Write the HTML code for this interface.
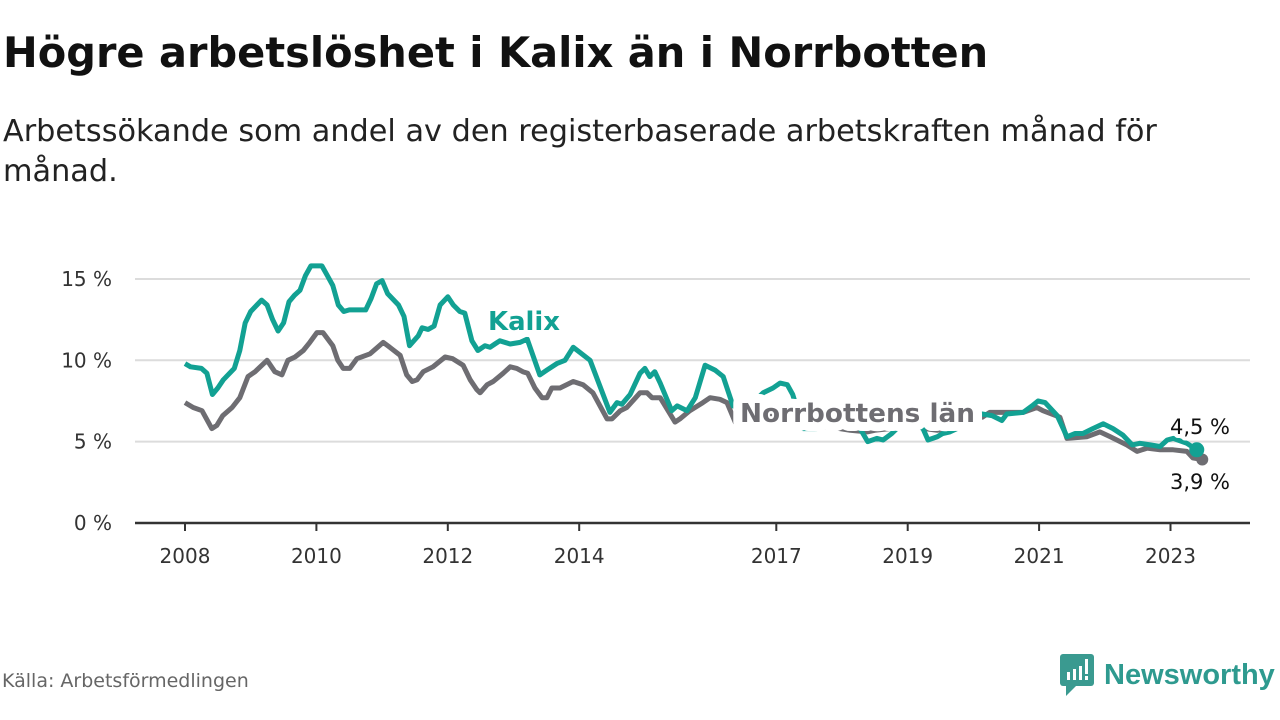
<!DOCTYPE html>
<html><head><meta charset="utf-8"><style>
body{margin:0;width:1280px;height:720px;background:#fff;font-family:"DejaVu Sans","Liberation Sans",sans-serif;overflow:hidden;position:relative}
h1{position:absolute;left:3px;top:28px;margin:0;font-size:41.5px;line-height:50px;font-weight:bold;color:#111;white-space:nowrap}
.sub{position:absolute;left:3px;top:112px;margin:0;font-size:30.3px;line-height:40px;color:#222;width:1230px}
.src{position:absolute;left:2px;top:670px;font-size:19px;color:#666}
.logo{position:absolute;left:1060px;top:654px;display:flex;align-items:center}
.logo span{font-size:29px;color:#2e9a8f;font-weight:bold;margin-left:10px;font-family:"Liberation Sans",sans-serif}
</style></head><body>
<h1>Högre arbetslöshet i Kalix än i Norrbotten</h1>
<p class="sub">Arbetssökande som andel av den registerbaserade arbetskraften månad för månad.</p>
<svg id="chart" width="1280" height="720" style="position:absolute;left:0;top:0"></svg>
<div class="src">Källa: Arbetsförmedlingen</div>
<div class="logo">
<svg width="34" height="42" viewBox="0 0 34 42"><rect x="0" y="0" width="34" height="32" rx="3" fill="#3a9a90"/><path d="M6 30 L6 42 L16 32Z" fill="#3a9a90"/><rect x="7" y="18" width="3" height="8" fill="#fff"/><rect x="13" y="15" width="3" height="11" fill="#fff"/><rect x="19" y="12" width="3" height="14" fill="#fff"/><rect x="25" y="5" width="3" height="15" fill="#fff"/><rect x="25" y="22" width="3" height="4" fill="#fff"/></svg>
<span>Newsworthy</span></div>
<script>
const kalixMonths=[0,1,3,4,5,6,7,9,10,11,12,14,15,16,17,18,19,20,21,22,23,25,26,27,28,29,30,32,33,34,35,36,37,39,40,41,42.6,43.3,44.4,45.5,46.6,48,49,50.2,51.1,52.4,53.5,54.8,55.7,56.6,57.5,59.4,61.2,62.5,64.8,66.1,67.9,69.4,70.9,72.1,74,77.6,78.9,79.8,81.3,83.1,84,84.9,85.8,86.8,88.9,89.9,91.7,93.2,95,96.8,98.3,100.1,102.3,104.1,105.6,107.4,108.7,110,111,112.9,114.2,115.4,117.8,120.5,123.3,124.7,126.4,127.5,129.1,130,131.5,133.3,134.8,135.7,137.4,138.4,139.7,141,143,145.6,147.4,149.2,150.1,153.1,154.7,155.8,157.1,159.3,161.1,162.6,164,165.8,167.7,169.5,171.3,173,174.4,176.3,178.1,179.4,180.5,183,184.8];
const kalixValues=[9.8,9.6,9.5,9.2,7.9,8.3,8.8,9.5,10.6,12.3,13.0,13.7,13.4,12.5,11.8,12.3,13.6,14.0,14.3,15.2,15.8,15.8,15.2,14.6,13.4,13.0,13.1,13.1,13.1,13.8,14.7,14.9,14.1,13.4,12.7,10.9,11.5,12.0,11.9,12.1,13.4,13.9,13.4,13.0,12.9,11.2,10.6,10.9,10.8,11.0,11.2,11.0,11.1,11.3,9.1,9.4,9.8,10.0,10.8,10.5,10.0,6.8,7.4,7.3,7.9,9.2,9.5,9.0,9.3,8.6,6.9,7.2,6.9,7.7,9.7,9.4,9.0,7.2,7.0,7.5,8.0,8.3,8.6,8.5,7.9,5.8,5.8,5.8,6.3,6.2,5.8,5.0,5.2,5.1,5.5,5.8,6.1,6.2,5.8,5.1,5.3,5.5,5.6,5.8,6.2,6.7,6.6,6.3,6.7,6.8,7.2,7.5,7.4,6.6,5.3,5.5,5.5,5.8,6.1,5.8,5.4,4.8,4.9,4.8,4.7,5.1,5.2,4.9,4.5];
const norrMonths=[0,1.5,3.1,4.9,5.8,6.9,8.6,10,11.5,12.8,15,16.4,17.7,18.8,20.1,21.6,22.8,24.1,25.2,27,27.9,28.9,30.1,31.4,33.8,36.2,37.4,39.3,40.5,41.5,42.4,43.5,45.3,47.5,48.9,50.8,52.1,53.3,53.9,55.2,56.3,58.1,59.4,60.6,61.7,62.6,63.9,65.2,66.1,67,68.5,70.9,72.7,74.5,77.1,78,79.5,80.7,83.1,84.4,85.3,86.8,89.5,90.4,92.2,94.6,95.9,97.7,99,100.5,103.2,105.9,108.7,111.4,114.2,117.8,121.5,124.6,126,128.8,132.4,135.2,137.4,139.7,142.5,145.6,147,149.4,153.1,155.6,156.7,159.8,161.1,164.7,167.1,169,172,173.9,175.7,178.1,180.5,183,184.1,185.8];
const norrValues=[7.4,7.1,6.9,5.8,6.0,6.6,7.1,7.7,9.0,9.3,10.0,9.3,9.1,10.0,10.2,10.6,11.1,11.7,11.7,10.9,10.0,9.5,9.5,10.1,10.4,11.1,10.8,10.3,9.1,8.7,8.8,9.3,9.6,10.2,10.1,9.7,8.8,8.2,8.0,8.5,8.7,9.2,9.6,9.5,9.3,9.2,8.3,7.7,7.7,8.3,8.3,8.7,8.5,8.0,6.4,6.4,6.9,7.1,8.0,8.0,7.7,7.7,6.2,6.4,6.9,7.4,7.7,7.6,7.4,6.2,6.5,6.6,6.8,6.4,6.0,5.9,5.7,5.6,5.7,5.8,6.0,5.8,5.7,5.8,6.3,6.5,6.8,6.8,6.8,7.1,6.9,6.5,5.2,5.3,5.6,5.3,4.8,4.4,4.6,4.5,4.5,4.4,4.0,3.9];
const yTicks=[0,5,10,15];
const yTickLabels=["0 %","5 %","10 %","15 %"];
const xTickYears=[2008,2010,2012,2014,2017,2019,2021,2023];
const NS="http://www.w3.org/2000/svg";
const svg=document.getElementById('chart');
const x=m=>185+m*5.475;
const y=v=>523-v*16.27;
function mk(t,a){const e=document.createElementNS(NS,t);for(const k in a)e.setAttribute(k,a[k]);svg.appendChild(e);return e;}
yTicks.forEach((t,i)=>{
  if(t>0){const g=mk('line',{x1:135,x2:1250,y1:y(t),y2:y(t),stroke:'#dcdcdc','stroke-width':2});
  
  }
  const l=mk('text',{x:112,y:y(t)+7,'text-anchor':'end','font-size':20,fill:'#333'});
  
  
  l.textContent=yTickLabels[i];
});
const ax=mk('line',{x1:135,x2:1250,y1:523,y2:523,stroke:'#333','stroke-width':2.5});


xTickYears.forEach(yr=>{
  const px=x((yr-2008)*12);
  const tk=mk('line',{x1:px,x2:px,y1:523,y2:531,stroke:'#333','stroke-width':2});
  
  
  const l=mk('text',{x:px,y:563,'text-anchor':'middle','font-size':20,fill:'#333'});
  
  
  l.textContent=yr;
});
function path(ms,vs){return ms.map((m,i)=>(i?'L':'M')+x(m).toFixed(1)+' '+y(vs[i]).toFixed(1)).join(' ');}
const pn=mk('path',{d:path(norrMonths,norrValues),fill:'none',stroke:'#6e6d72','stroke-width':5,'stroke-linejoin':'round'});


const pk=mk('path',{d:path(kalixMonths,kalixValues),fill:'none',stroke:'#12a193','stroke-width':5,'stroke-linejoin':'round'});


const dn=mk('circle',{cx:x(norrMonths[norrMonths.length-1]),cy:y(norrValues[norrValues.length-1]),r:6,fill:'#6e6d72'});


const dk=mk('circle',{cx:x(kalixMonths[kalixMonths.length-1]),cy:y(kalixValues[kalixValues.length-1]),r:7.5,fill:'#12a193'});


function lab(txt,px,py,col,name,size,bold,anchor,len,halo){
  const a={x:px,y:py,'font-size':size,'font-weight':bold?'bold':'normal',fill:col,stroke:'#fff','stroke-width':halo,'paint-order':'stroke','stroke-linejoin':'round','text-anchor':anchor||'start'};
  if(len){a.textLength=len;a.lengthAdjust='spacingAndGlyphs';}
  const t=mk('text',a);
  
  
  t.textContent=txt;
}
lab('Kalix',488,330,'#12a193','kalix-label',26,true,'start',72,14);
lab('Norrbottens län',740,422,'#6e6d72','norrbotten-label',26,true,'start',235,18);
lab('4,5 %',1230,434,'#111','kalix-end-value',21,false,'end',0,8);
lab('3,9 %',1230,489,'#111','norrbotten-end-value',21,false,'end',0,8);
</script>
</body></html>
